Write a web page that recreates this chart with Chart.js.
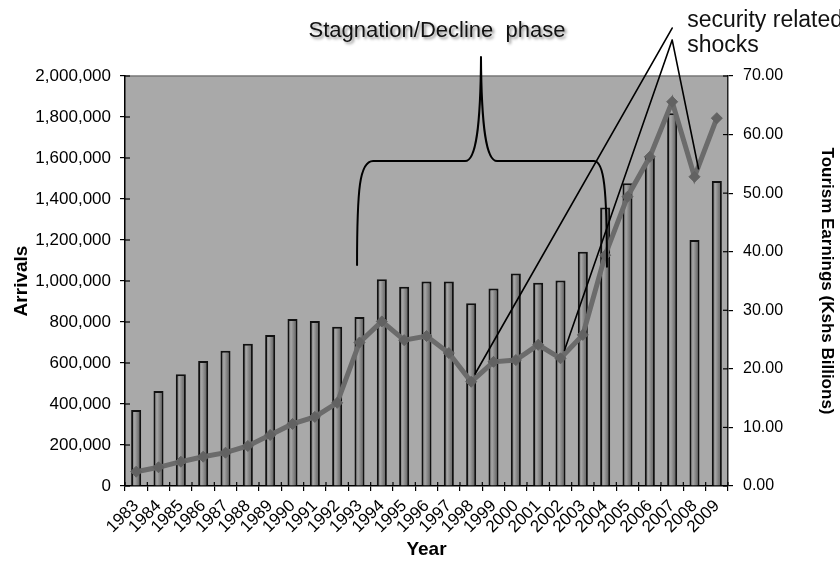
<!DOCTYPE html>
<html><head><meta charset="utf-8">
<script src="https://cdn.jsdelivr.net/npm/chart.js@4/dist/chart.umd.min.js"></script>
<style>html,body{margin:0;padding:0;background:#fff}#wrap{width:840px;height:561px}</style>
</head><body><div id="wrap"><canvas id="c" width="840" height="561"></canvas></div>
<script>
const years = ['1983','1984','1985','1986','1987','1988','1989','1990','1991','1992','1993','1994','1995','1996','1997','1998','1999','2000','2001','2002','2003','2004','2005','2006','2007','2008','2009'];
const arrivals = [371000,463000,545000,610000,660000,694000,737000,815000,805000,777000,824000,1008000,972000,997000,997000,891000,964000,1037000,992000,1003000,1143000,1358000,1477000,1606000,1818000,1200000,1488000];
const earnings = [2.44,3.19,4.15,5.0,5.69,6.83,8.71,10.6,11.8,14.2,24.5,28.1,24.9,25.6,22.7,17.8,21.2,21.5,24.1,21.8,25.8,39.4,49.4,56.2,65.6,52.8,62.8];
const arrivalTicks = {min:0, max:2000000, step:200000};
const earningTicks = {min:0, max:70, step:10};
const braceLabel = 'Stagnation/Decline  phase';
const shockLabel = ['security related','shocks'];
const shockYears = ['1998','2002','2008'];

const FONT = "'Liberation Sans', Arial, sans-serif";
const BAR_FRAC = 0.45;

const bgPlugin = {
  id:'bg',
  beforeDraw(chart){
    const {ctx, chartArea:a} = chart;
    ctx.save();
    ctx.fillStyle = '#a9a9a9';
    ctx.fillRect(a.left, a.top, a.right-a.left, a.bottom-a.top);
    ctx.strokeStyle = '#777';
    ctx.lineWidth = 1.5;
    ctx.beginPath(); ctx.moveTo(a.left, a.top); ctx.lineTo(a.right, a.top); ctx.stroke();
    ctx.restore();
  },
  afterDraw(chart){
    const {ctx, chartArea:a, scales} = chart;
    ctx.save();
    ctx.strokeStyle = '#000'; ctx.lineWidth = 1.2;
    scales.y.ticks.forEach((t,i)=>{ const y = scales.y.getPixelForTick(i); ctx.beginPath(); ctx.moveTo(a.left, y); ctx.lineTo(a.left+5, y); ctx.stroke(); });
    scales.y1.ticks.forEach((t,i)=>{ const y = scales.y1.getPixelForTick(i); ctx.beginPath(); ctx.moveTo(a.right-5, y); ctx.lineTo(a.right, y); ctx.stroke(); });
    const xs = scales.x; const step = xs.getPixelForValue(1)-xs.getPixelForValue(0);
    for (let i=0;i<=years.length;i++){ const x = xs.getPixelForValue(i) - step/2; ctx.beginPath(); ctx.moveTo(x, a.bottom-4); ctx.lineTo(x, a.bottom); ctx.stroke(); }
    ctx.restore();
  }
};

const annoPlugin = {
  id:'anno',
  afterDatasetsDraw(chart){
    const {ctx, scales} = chart;
    const X = v => scales.x.getPixelForValue(v);
    const Y = v => scales.y.getPixelForValue(v);
    const Y1 = v => scales.y1.getPixelForValue(v);
    ctx.save();
    ctx.strokeStyle = '#000'; ctx.lineWidth = 2; ctx.lineJoin='round'; ctx.lineCap='round';
    const xL = X(9.89), xL2 = X(10.61), xM1 = X(14.73), xT = X(15.44), xM2 = X(16.16), xR2 = X(20.5), xR = X(21.08);
    const yEnd = Y(1078000), yH = Y(1585000), yTip = Y(2093000);
    ctx.beginPath();
    ctx.moveTo(xL, yEnd);
    ctx.bezierCurveTo(xL, Y(1450000), X(10.0), yH, xL2, yH);
    ctx.lineTo(xM1, yH);
    ctx.bezierCurveTo(X(15.2), yH, X(15.42), Y(1740000), xT, yTip);
    ctx.bezierCurveTo(X(15.46), Y(1740000), X(15.68), yH, xM2, yH);
    ctx.lineTo(xR2, yH);
    ctx.bezierCurveTo(X(20.95), yH, xR, Y(1450000), xR, Y(1070000));
    ctx.stroke();
    ctx.lineWidth = 1.6;
    const ax = X(24.0), ay1 = Y(2234000), ay2 = Y(2176000);
    const pt = yr => { const i = years.indexOf(yr); return [X(i)+4, Y1(earnings[i])-8]; };
    const [p1x,p1y] = pt(shockYears[0]);
    const [p2x,p2y] = pt(shockYears[1]);
    const [p3x,p3y] = pt(shockYears[2]);
    ctx.beginPath(); ctx.moveTo(ax, ay1); ctx.lineTo(p1x, p1y); ctx.stroke();
    ctx.beginPath(); ctx.moveTo(p2x, p2y); ctx.lineTo(ax, ay2); ctx.lineTo(p3x, p3y); ctx.stroke();
    ctx.restore();
  },
  afterDraw(chart){
    const {ctx, scales} = chart;
    const X = v => scales.x.getPixelForValue(v);
    const Y = v => scales.y.getPixelForValue(v);
    ctx.save();
    ctx.fillStyle = '#111';
    ctx.font = '22px ' + FONT;
    ctx.textAlign = 'center'; ctx.textBaseline = 'alphabetic';
    ctx.shadowColor = 'rgba(0,0,0,0.45)'; ctx.shadowBlur = 3; ctx.shadowOffsetX = 2; ctx.shadowOffsetY = 2;
    ctx.fillText(braceLabel, X(13.47), Y(2190000));
    ctx.shadowColor = 'transparent';
    ctx.font = '23px ' + FONT;
    ctx.textAlign = 'left';
    ctx.fillText(shockLabel[0], X(24.67), Y(2239000));
    ctx.fillText(shockLabel[1], X(24.67), Y(2117000));
    ctx.restore();
  }
};

const barFill = (c) => {
  const chart = c.chart; const xs = chart.scales && chart.scales.x;
  if (!xs || c.type !== 'data') return '#888';
  const cx = xs.getPixelForValue(c.dataIndex);
  const w = (xs.getPixelForValue(1)-xs.getPixelForValue(0)) * BAR_FRAC / 2;
  if (!isFinite(cx) || !isFinite(w) || w <= 0) return '#888';
  const g = chart.ctx.createLinearGradient(cx-w, 0, cx+w, 0);
  g.addColorStop(0, '#606060'); g.addColorStop(0.35, '#a6a6a6'); g.addColorStop(0.7, '#7a7a7a'); g.addColorStop(1, '#4a4a4a');
  return g;
};

new Chart(document.getElementById('c'), {
  data: {
    labels: years,
    datasets: [
      { type:'line', label:'Tourism Earnings', data: earnings, yAxisID:'y1', order:0,
        borderColor:'#6b6b6b', borderWidth:5, tension:0,
        pointStyle:'rectRot', pointRadius:5.5, pointBackgroundColor:'#626262', pointBorderColor:'#626262', pointBorderWidth:1 },
      { type:'bar', label:'Arrivals', data: arrivals, yAxisID:'y', order:1,
        backgroundColor: barFill, borderColor:'#111', borderWidth:2,
        categoryPercentage:1, barPercentage:BAR_FRAC }
    ]
  },
  options: {
    responsive:false, devicePixelRatio:1, animation:false,
    layout:{ padding:{ top:76, left:0, right:0, bottom:0 } },
    plugins:{ legend:{display:false}, tooltip:{enabled:false} },
    scales:{
      x:{ offset:true,
        grid:{ offset:true, drawOnChartArea:false, drawTicks:true, tickLength:5, color:'#000', lineWidth:1.2 },
        border:{ color:'#000', width:1.5 },
        ticks:{ autoSkip:false, maxRotation:45, minRotation:45, color:'#000', font:{family:FONT, size:17}, padding:5 },
        title:{ display:true, text:'Year', color:'#000', font:{family:FONT, size:19, weight:'bold'}, padding:{top:0,bottom:0} },
        afterFit(s){ s.height = 75; }
      },
      y:{ position:'left', min:arrivalTicks.min, max:arrivalTicks.max,
        grid:{ drawOnChartArea:false, tickLength:5, color:'#000', lineWidth:1.2 },
        border:{ color:'#000', width:1.5 },
        ticks:{ stepSize:arrivalTicks.step, color:'#000', padding:9, font:{family:FONT, size:17},
          callback:v => v.toLocaleString('en-US') },
        title:{ display:true, text:'Arrivals', color:'#000', font:{family:FONT, size:19, weight:'bold'}, padding:{top:10,bottom:0} },
        afterFit(s){ s.width = 125; }
      },
      y1:{ position:'right', min:earningTicks.min, max:earningTicks.max,
        grid:{ drawOnChartArea:false, tickLength:5, color:'#000', lineWidth:1.2 },
        border:{ color:'#222', width:1.5 },
        ticks:{ stepSize:earningTicks.step, color:'#000', padding:10, font:{family:FONT, size:16},
          callback:v => Number(v).toFixed(2) },
        title:{ display:true, text:'Tourism Earnings (Kshs Billions)', color:'#000', font:{family:FONT, size:17, weight:'bold'}, padding:{top:3,bottom:0} },
        afterFit(s){ s.width = 112; }
      }
    }
  },
  plugins:[bgPlugin, annoPlugin]
});
</script>
</body></html>
